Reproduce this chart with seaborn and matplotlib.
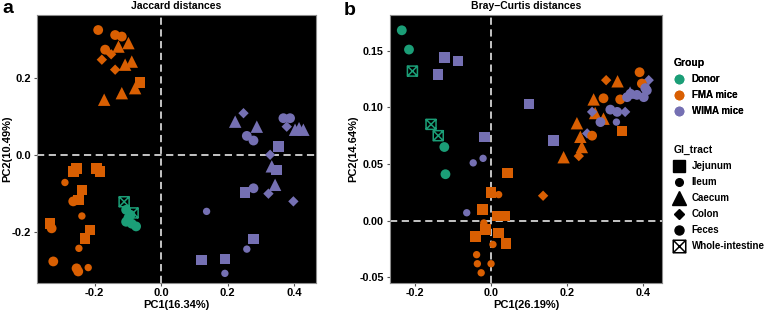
import pandas as pd
import seaborn as sns
import matplotlib.pyplot as plt
from matplotlib.path import Path
from matplotlib.lines import Line2D
from matplotlib.ticker import FormatStrFormatter

# ---- data ----
groups = ["Donor", "FMA mice", "WIMA mice"]
colors = ["#1B9E77", "#D95F02", "#7570B3"]
tracts = ["Jejunum", "Ileum", "Caecum", "Colon", "Feces", "Whole-intestine"]

# panel a: Jaccard
jac_fma_x = [-0.189, -0.138, -0.118, -0.098, -0.168, -0.178, -0.128, -0.138, -0.108, -0.088,
             -0.063, -0.078, -0.118, -0.171, -0.150,
             -0.264, -0.254, -0.194, -0.184, -0.289, -0.238, -0.248, -0.264, -0.238, -0.334,
             -0.329, -0.214, -0.229, -0.247, -0.324, -0.254, -0.249, -0.219]
jac_fma_y = [0.325, 0.312, 0.308, 0.291, 0.274, 0.248, 0.282, 0.222, 0.235, 0.243,
             0.188, 0.174, 0.161, 0.144, 0.262,
             -0.042, -0.034, -0.034, -0.042, -0.071, -0.090, -0.116, -0.120, -0.158, -0.177,
             -0.190, -0.194, -0.216, -0.242, -0.276, -0.294, -0.302, -0.292]
jac_fma_t = ["Feces", "Feces", "Feces", "Caecum", "Feces", "Colon", "Caecum", "Colon", "Caecum", "Caecum",
             "Jejunum", "Caecum", "Caecum", "Caecum", "Colon",
             "Jejunum", "Jejunum", "Jejunum", "Jejunum", "Ileum", "Jejunum", "Jejunum", "Feces", "Ileum", "Jejunum",
             "Feces", "Jejunum", "Jejunum", "Ileum", "Feces", "Feces", "Feces", "Ileum"]

jac_donor_x = [-0.111, -0.084, -0.105, -0.098, -0.105, -0.088, -0.075, -0.092]
jac_donor_y = [-0.121, -0.150, -0.142, -0.163, -0.173, -0.178, -0.185, -0.155]
jac_donor_t = ["Whole-intestine", "Whole-intestine", "Feces", "Feces", "Feces", "Feces", "Feces", "Feces"]

jac_wima_x = [0.248, 0.223, 0.288, 0.258, 0.278, 0.368, 0.388, 0.378, 0.403, 0.428, 0.415,
              0.353, 0.328, 0.333, 0.348, 0.278, 0.253, 0.343, 0.323, 0.398, 0.137,
              0.278, 0.258, 0.122, 0.192, 0.192]
jac_wima_y = [0.109, 0.087, 0.074, 0.050, 0.038, 0.096, 0.096, 0.074, 0.066, 0.066, 0.070,
              0.023, 0.001, -0.029, -0.038, -0.086, -0.097, -0.077, -0.100, -0.120, -0.146,
              -0.218, -0.244, -0.272, -0.270, -0.307]
jac_wima_t = ["Colon", "Caecum", "Caecum", "Feces", "Feces", "Feces", "Feces", "Colon", "Caecum", "Caecum", "Caecum",
              "Jejunum", "Colon", "Caecum", "Jejunum", "Feces", "Jejunum", "Caecum", "Colon", "Colon", "Ileum",
              "Jejunum", "Ileum", "Jejunum", "Jejunum", "Ileum"]

# panel b: Bray-Curtis
bc_donor_x = [-0.235, -0.216, -0.207, -0.158, -0.139, -0.123, -0.120]
bc_donor_y = [0.168, 0.151, 0.132, 0.085, 0.075, 0.065, 0.041]
bc_donor_t = ["Feces", "Feces", "Whole-intestine", "Whole-intestine", "Whole-intestine", "Feces", "Feces"]

bc_wima_x = [-0.123, -0.087, -0.140, 0.100, 0.165, -0.017, -0.047, -0.021, -0.064,
             0.415, 0.406, 0.384, 0.367, 0.358, 0.402, 0.410, 0.314, 0.332, 0.353, 0.266,
             0.288, 0.330, 0.253, 0.366]
bc_wima_y = [0.144, 0.141, 0.129, 0.103, 0.071, 0.074, 0.051, 0.055, 0.007,
             0.124, 0.117, 0.111, 0.112, 0.109, 0.109, 0.115, 0.098, 0.096, 0.096, 0.096,
             0.087, 0.087, 0.077, 0.113]
bc_wima_t = ["Jejunum", "Jejunum", "Jejunum", "Jejunum", "Jejunum", "Jejunum", "Ileum", "Ileum", "Ileum",
             "Colon", "Feces", "Feces", "Feces", "Feces", "Feces", "Feces", "Feces", "Feces", "Colon", "Colon",
             "Feces", "Ileum", "Colon", "Caecum"]

bc_fma_x = [0.391, 0.303, 0.333, 0.397, 0.270, 0.296, 0.340, 0.274, 0.296, 0.226, 0.345,
            0.266, 0.235, 0.239, 0.231, 0.191, 0.137,
            0.043, 0.000, 0.020, -0.023, 0.016, 0.037, -0.019, -0.015, -0.041, 0.020, 0.039,
            0.005, -0.038, -0.036, 0.000, -0.026]
bc_fma_y = [0.131, 0.124, 0.123, 0.121, 0.107, 0.108, 0.107, 0.095, 0.090, 0.086, 0.079,
            0.075, 0.074, 0.065, 0.057, 0.056, 0.022,
            0.042, 0.025, 0.023, 0.010, 0.004, 0.004, -0.002, -0.008, -0.014, -0.011, -0.020,
            -0.021, -0.030, -0.038, -0.038, -0.046]
bc_fma_t = ["Feces", "Colon", "Caecum", "Feces", "Caecum", "Feces", "Feces", "Caecum", "Caecum", "Caecum", "Jejunum",
            "Feces", "Caecum", "Caecum", "Colon", "Caecum", "Colon",
            "Jejunum", "Jejunum", "Ileum", "Jejunum", "Jejunum", "Jejunum", "Ileum", "Jejunum", "Jejunum", "Jejunum", "Jejunum",
            "Ileum", "Ileum", "Ileum", "Ileum", "Ileum"]

# ---- marker styles ----
box_x = Path([(-0.5, -0.5), (0.5, -0.5), (0.5, 0.5), (-0.5, 0.5), (-0.5, -0.5),
              (-0.5, -0.5), (0.5, 0.5), (-0.5, 0.5), (0.5, -0.5)],
             [Path.MOVETO, Path.LINETO, Path.LINETO, Path.LINETO, Path.CLOSEPOLY,
              Path.MOVETO, Path.LINETO, Path.MOVETO, Path.LINETO])
tract_marker = {"Jejunum": "s", "Ileum": "o", "Caecum": "^", "Colon": "D", "Feces": "o", "Whole-intestine": box_x}
tract_size = {"Jejunum": 58, "Ileum": 28, "Caecum": 80, "Colon": 28, "Feces": 50, "Whole-intestine": 52}
palette = dict(zip(groups, colors))


def make_df(parts):
    rows = []
    for grp, xs, ys, ts in parts:
        for x, y, t in zip(xs, ys, ts):
            rows.append({"PC1": x, "PC2": y, "Group": grp, "GI_tract": t})
    return pd.DataFrame(rows)


df_a = make_df([("FMA mice", jac_fma_x, jac_fma_y, jac_fma_t),
                ("WIMA mice", jac_wima_x, jac_wima_y, jac_wima_t),
                ("Donor", jac_donor_x, jac_donor_y, jac_donor_t)])
df_b = make_df([("FMA mice", bc_fma_x, bc_fma_y, bc_fma_t),
                ("WIMA mice", bc_wima_x, bc_wima_y, bc_wima_t),
                ("Donor", bc_donor_x, bc_donor_y, bc_donor_t)])

plt.rcParams["font.family"] = ["Liberation Sans", "DejaVu Sans"]
plt.rcParams["font.weight"] = "bold"

fig = plt.figure(figsize=(7.78, 3.10), dpi=100)
ax_a = fig.add_axes([37 / 778, 27 / 310, 279 / 778, 268 / 310])
ax_b = fig.add_axes([390 / 778, 27 / 310, 272 / 778, 268 / 310])


def draw(ax, df, title, xlabel, ylabel, xlim, ylim, xticks, yticks, yfmt, tsize, ylab_x):
    ax.set_facecolor("black")
    ax.axhline(0, color="#d4d4d4", lw=1.3, ls=(0, (4, 2.5)), zorder=1)
    ax.axvline(0, color="#d4d4d4", lw=1.3, ls=(0, (4, 2.5)), zorder=1)
    for t in tracts:
        sub = df[df["GI_tract"] == t]
        if t == "Whole-intestine":
            for g in groups:
                s2 = sub[sub["Group"] == g]
                if len(s2):
                    sns.scatterplot(data=s2, x="PC1", y="PC2", ax=ax, marker=box_x,
                                    s=tract_size[t], color=palette[g], facecolor="none",
                                    edgecolor=palette[g], linewidth=1.1, legend=False, zorder=3)
        else:
            sns.scatterplot(data=sub, x="PC1", y="PC2", hue="Group", palette=palette, ax=ax,
                            marker=tract_marker[t], s=tract_size[t], linewidth=0,
                            legend=False, zorder=2)
    ax.set_xlim(xlim)
    ax.set_ylim(ylim)
    ax.set_xticks(xticks)
    ax.set_yticks(yticks)
    ax.xaxis.set_major_formatter(FormatStrFormatter("%.1f"))
    ax.yaxis.set_major_formatter(FormatStrFormatter(yfmt))
    ax.tick_params(labelsize=tsize, length=2.5, width=0.8, color="#555555", pad=2)
    ax.tick_params(axis="x", pad=1.2)
    for lab in ax.get_xticklabels() + ax.get_yticklabels():
        lab.set_fontweight("bold")
    ax.set_xlabel(xlabel, fontsize=8, fontweight="bold", va="center")
    ax.set_ylabel(ylabel, fontsize=8, fontweight="bold", va="center")
    ax.xaxis.set_label_coords(0.5, -0.082)
    ax.yaxis.set_label_coords(ylab_x, 0.5)
    ax.set_title(title, fontsize=7.5, fontweight="bold", pad=4)
    for sp in ax.spines.values():
        sp.set_color("#8c8c8c")
        sp.set_linewidth(0.8)


draw(ax_a, df_a, "Jaccard distances", "PC1(16.34%)", "PC2(10.49%)",
     (-0.373, 0.466), (-0.332, 0.364), [-0.2, 0.0, 0.2, 0.4], [-0.2, 0.0, 0.2], "%.1f", 8.0, -0.105)
draw(ax_b, df_b, "Bray\u2212Curtis distances", "PC1(26.19%)", "PC2(14.64%)",
     (-0.266, 0.45), (-0.055, 0.1815), [-0.2, 0.0, 0.2, 0.4], [-0.05, 0.0, 0.05, 0.10, 0.15], "%.2f", 7.8, -0.136)

fig.text(0.003, 0.972, "a", fontsize=14, fontweight="bold", va="center", ha="left")
fig.text(344 / 778, 0.965, "b", fontsize=14, fontweight="bold", va="center", ha="left")

# legends
grp_handles = [Line2D([], [], marker="o", ls="", color=c, markersize=6) for c in colors]
leg1 = fig.legend(grp_handles, groups, title="Group", loc="upper left",
                  bbox_to_anchor=(674 / 778, 1 - 58 / 310), frameon=False,
                  prop={"size": 7, "weight": "bold"}, title_fontproperties={"size": 7.5, "weight": "bold"},
                  alignment="left", borderpad=0, borderaxespad=0, labelspacing=0.62,
                  handlelength=1.0, handletextpad=0.8)

tr_handles = [
    Line2D([], [], marker="s", ls="", color="black", markersize=8),
    Line2D([], [], marker="o", ls="", color="black", markersize=5.5),
    Line2D([], [], marker="^", ls="", color="black", markersize=9.5),
    Line2D([], [], marker="D", ls="", color="black", markersize=5.5),
    Line2D([], [], marker="o", ls="", color="black", markersize=6.5),
    Line2D([], [], marker=box_x, ls="", color="black", markerfacecolor="none", markersize=9, markeredgewidth=1.1),
]
leg2 = fig.legend(tr_handles, tracts, title="GI_tract", loc="upper left",
                  bbox_to_anchor=(674 / 778, 1 - 145 / 310), frameon=False,
                  prop={"size": 7, "weight": "bold"}, title_fontproperties={"size": 7.5, "weight": "bold"},
                  alignment="left", borderpad=0, borderaxespad=0, labelspacing=0.62,
                  handlelength=1.0, handletextpad=0.8)
fig.add_artist(leg1)

fig.savefig("out.png", dpi=100)
